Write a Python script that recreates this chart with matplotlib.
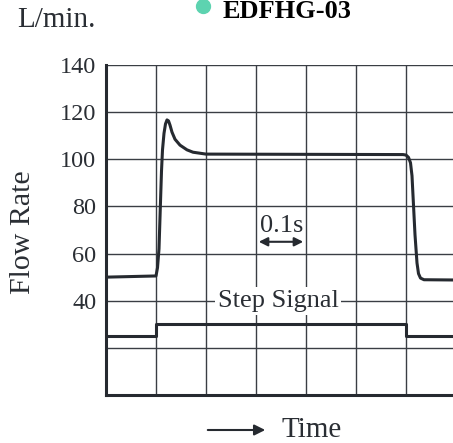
import matplotlib
matplotlib.use("Agg")
import matplotlib.pyplot as plt

# Data (x in grid divisions, each division = 0.1 s)
flow_x = [0, 1.0, 1.03, 1.06, 1.09, 1.11, 1.13, 1.16, 1.19, 1.22, 1.25, 1.28, 1.32, 1.38,
          1.48, 1.62, 1.74, 2.0,
          5.94, 6.0, 6.05, 6.09, 6.12, 6.18, 6.22, 6.25, 6.29, 6.36, 6.94]
flow_y = [50, 50.5, 54, 62, 82, 95, 104, 111, 115, 116.7, 116.3, 114.5, 111.5, 108.5,
          106, 104, 103, 102.2,
          102, 101.8, 100.8, 98.5, 93, 68, 56, 51.5, 49.6, 48.9, 48.8]
step_x = [0, 1.0, 1.0, 6.0, 6.0, 6.94]
step_y = [25, 25, 30, 30, 25, 25]
yticks = [40, 60, 80, 100, 120, 140]
grid_y = [20, 40, 60, 80, 100, 120, 140]
grid_x = [1, 2, 3, 4, 5, 6]

plt.rcParams['font.family'] = ['Liberation Serif', 'DejaVu Serif']
dark = '#262a30'
tcol = '#2a2e34'

fig = plt.figure(figsize=(4.53, 4.43), dpi=100)
ax = fig.add_axes([106/453, 1-395/443, 1-106/453, 330/443])
ax.set_xlim(0, 6.94)
ax.set_ylim(0, 140)

for gy in grid_y:
    ax.axhline(gy, color='#3a3e44', lw=1.0, zorder=1)
for gx in grid_x:
    ax.axvline(gx, color='#3a3e44', lw=1.0, zorder=1)

ax.plot(flow_x, flow_y, color=dark, lw=2.2, solid_joinstyle='round', solid_capstyle='round', zorder=3)
ax.plot(step_x, step_y, color=dark, lw=2.2, zorder=3)

for s in ['top', 'right']:
    ax.spines[s].set_visible(False)
for s in ['left', 'bottom']:
    ax.spines[s].set_linewidth(2.2)
    ax.spines[s].set_color(dark)
ax.set_xticks([])
ax.set_yticks(yticks)
ax.set_yticklabels([str(v) for v in yticks])
ax.tick_params(axis='y', length=0, pad=7, labelsize=17.5, labelcolor=tcol)

ax.text(3.44, 40, 'Step Signal', ha='center', va='center', fontsize=19, color=tcol,
        bbox=dict(facecolor='white', edgecolor='none', pad=2), zorder=4)
ax.text(3.52, 69.2, '0.1s', ha='center', va='baseline', fontsize=19, color=tcol, zorder=4)
ax.annotate('', xy=(3.0, 65), xytext=(4.0, 65),
            arrowprops=dict(arrowstyle='<|-|>', color=dark, lw=1.5, mutation_scale=13), zorder=4)

fig.text(23/453, 1-232/443, 'Flow Rate', rotation=90, ha='center', va='center',
         fontsize=21.5, color=tcol)
fig.text(17/453, 1-27/443, 'L/min.', ha='left', va='baseline', fontsize=21, color=tcol)
fig.text(223/453, 1-18/443, 'EDFHG-03', ha='left', va='baseline', fontsize=19,
         fontweight='bold', color='black')
fig.lines.append(matplotlib.lines.Line2D([203/453], [1-6/443], transform=fig.transFigure,
                                         marker='o', markersize=10, color='#5dd3b0', lw=0))
fig.text(282/453, 1-437/443, 'Time', ha='left', va='baseline', fontsize=21, color=tcol)
fig.patches.append(matplotlib.patches.FancyArrowPatch((205/453, 1-430/443), (268/453, 1-430/443),
                   transform=fig.transFigure, arrowstyle='-|>', mutation_scale=16,
                   color=dark, lw=1.5))

fig.savefig('out.png', dpi=100)
